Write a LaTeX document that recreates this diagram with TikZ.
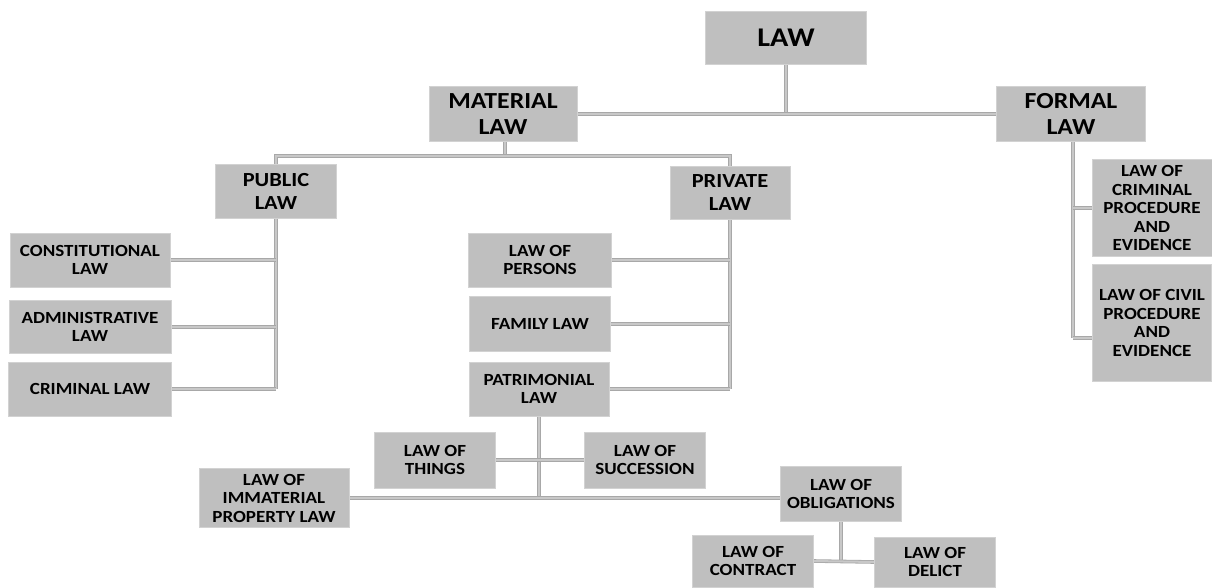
\documentclass[tikz,border=0pt]{standalone}
\usepackage{fontspec}
\setmainfont{Carlito}[FakeStretch=1.12]
\usetikzlibrary{positioning, calc, backgrounds}
\definecolor{boxgray}{RGB}{191,191,191}
\definecolor{edgegray}{RGB}{210,210,210}
\definecolor{lineedge}{RGB}{168,168,168}
\definecolor{linefill}{RGB}{200,200,200}
\tikzset{
  box/.style={fill=boxgray, draw=edgegray, line width=0.6pt, align=center, inner sep=1pt,
    font=\bfseries\fontsize{17}{18.5}\selectfont},
  bigbox/.style={box, font=\bfseries\fontsize{23}{26}\selectfont},
  conn/.style={draw=lineedge, line width=0.8pt, double=linefill, double distance=2pt}
}
\begin{document}
\begin{tikzpicture}[x=1pt, y=-1pt]
        \useasboundingbox (0,0) rectangle (1212,587);
        % nodes
        \node[bigbox, minimum width=161, minimum height=53, font=\bfseries\fontsize{27}{30}\selectfont] (law) at (786,38) {LAW};
        \node[bigbox, minimum width=148, minimum height=55] (material) at (503,114) {MATERIAL\\LAW};
        \node[bigbox, minimum width=149, minimum height=55] (formal)   at (1071,114) {FORMAL\\LAW};
        \node[bigbox, minimum width=121, minimum height=54, font=\bfseries\fontsize{20}{23}\selectfont] (public)  at (276,191) {PUBLIC\\LAW};
        \node[bigbox, minimum width=120, minimum height=53, font=\bfseries\fontsize{20}{23}\selectfont] (private) at (730,193) {PRIVATE\\LAW};
        \node[box, minimum width=160, minimum height=54] (constitutional) at (90,260) {CONSTITUTIONAL\\LAW};
        \node[box, minimum width=162, minimum height=53] (administrative) at (90,327) {ADMINISTRATIVE\\LAW};
        \node[box, minimum width=163, minimum height=54] (criminal)       at (90,389) {CRIMINAL LAW};
        \node[box, minimum width=143, minimum height=54] (persons)     at (540,260) {LAW OF\\PERSONS};
        \node[box, minimum width=141, minimum height=55] (family)      at (540,324) {FAMILY LAW};
        \node[box, minimum width=140, minimum height=54] (patrimonial) at (539,389) {PATRIMONIAL\\LAW};
        \node[box, minimum width=120, minimum height=97]  (crimproc) at (1152,208) {LAW OF\\CRIMINAL\\PROCEDURE\\AND\\EVIDENCE};
        \node[box, minimum width=119, minimum height=117] (civproc)  at (1152,323) {LAW OF CIVIL\\PROCEDURE\\AND\\EVIDENCE};
        \node[box, minimum width=121, minimum height=56] (things)      at (435,460) {LAW OF\\THINGS};
        \node[box, minimum width=121, minimum height=56] (succession)  at (645,460) {LAW OF\\SUCCESSION};
        \node[box, minimum width=150, minimum height=59] (immaterial)  at (274,498) {LAW OF\\IMMATERIAL\\PROPERTY LAW};
        \node[box, minimum width=121, minimum height=55] (obligations) at (841,494) {LAW OF\\OBLIGATIONS};
        \node[box, minimum width=121, minimum height=52] (contract)    at (753,561) {LAW OF\\CONTRACT};
        \node[box, minimum width=121, minimum height=50] (delict)      at (935,562) {LAW OF\\DELICT};
        % joints
        \coordinate (m1) at (505,156);
        \coordinate (f2) at (1073,338);
        \coordinate (p1) at (patrimonial.south |- immaterial.east);
        % connectors
        \begin{scope}[on background layer]
        \draw[conn] (law.south) -- (law.south |- formal.west);
        \draw[conn] (material.east) -- (formal.west);
        \draw[conn] (material.south -| m1) -- (m1);
        \draw[conn] (public.north) |- (m1) -| (private.north);
        \draw[conn] (public.south) -- (public.south |- criminal.east);
        \draw[conn] (constitutional.east) -- (constitutional.east -| public.south);
        \draw[conn] (administrative.east) -- (administrative.east -| public.south);
        \draw[conn] (criminal.east) -- (criminal.east -| public.south);
        \draw[conn] (private.south) -- (private.south |- patrimonial.east);
        \draw[conn] (persons.east) -- (persons.east -| private.south);
        \draw[conn] (family.east) -- (family.east -| private.south);
        \draw[conn] (patrimonial.east) -- (patrimonial.east -| private.south);
        \draw[conn] (formal.south -| f2) -- (f2);
        \draw[conn] (crimproc.west -| f2) -- (crimproc.west);
        \draw[conn] (f2) -- (f2 -| civproc.west);
        \draw[conn] (patrimonial.south) -- (p1);
        \draw[conn] (things.east) -- (succession.west);
        \draw[conn] (immaterial.east) -- (p1) -- (p1 -| obligations.west);
        \draw[conn] (obligations.south) -- (obligations.south |- contract.east);
        \draw[conn] (contract.east) -- (delict.west);
        \end{scope}
\end{tikzpicture}
\end{document}
